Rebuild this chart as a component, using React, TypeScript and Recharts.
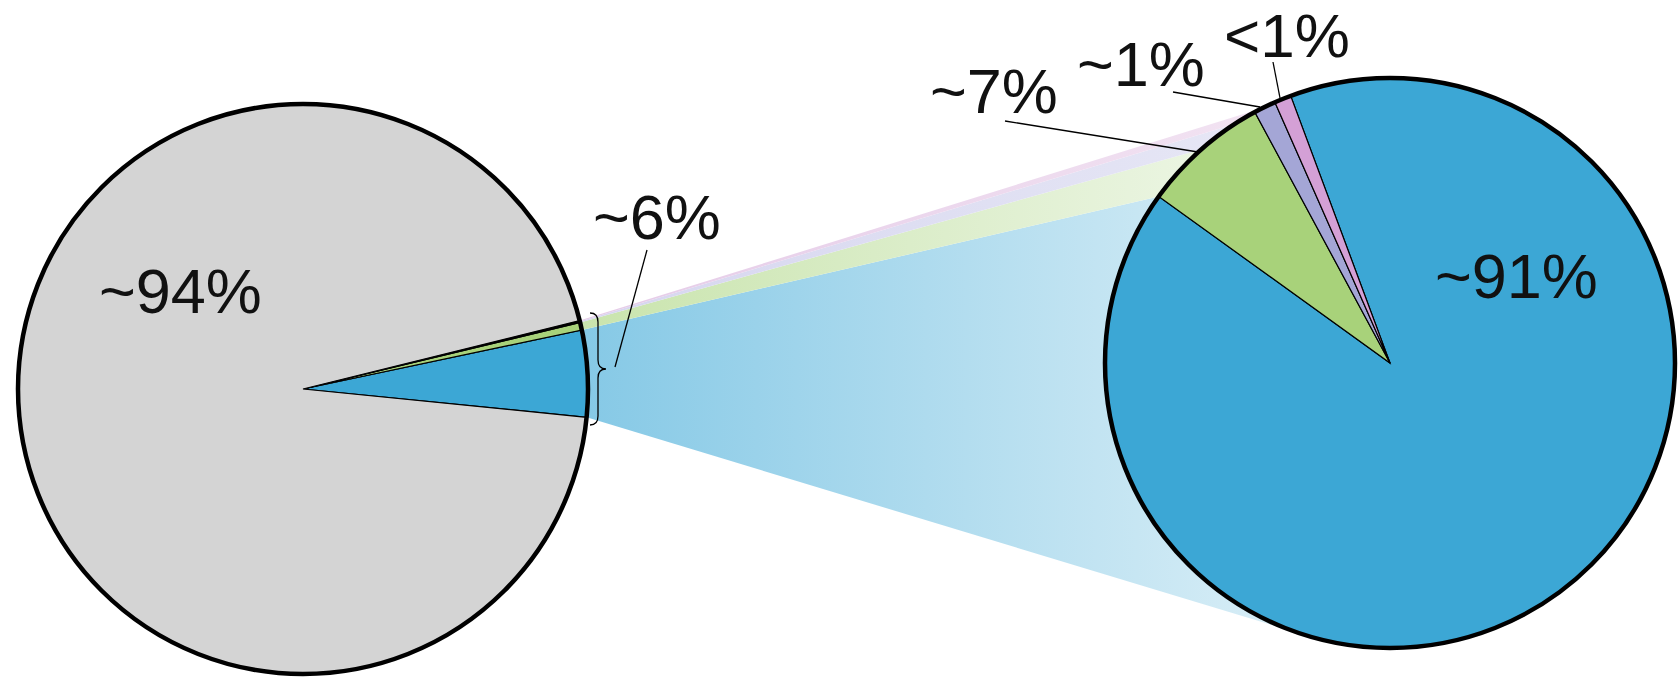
import React from 'react';
import { PieChart, Pie, Cell } from 'recharts';

// ---------- data ----------
const categories = ['Blue', 'Green', 'Purple', 'Pink'];
const rightValues = [90.6, 7.2, 1.25, 0.95];
const rightLabels = ['~91%', '~7%', '~1%', '<1%'];
const leftValues = [4.9, 0.43, 0.06, 0.05];
const leftRestName = 'Rest';
const leftRestValue = 94.56;
const leftLabels = ['~94%', '~6%'];

// ---------- styles / layout ----------
const sliceColors = ['#3ca7d5', '#a8d27a', '#a4a6d6', '#d4a0d6'];
const restColor = '#d4d4d4';
const bandFrom = ['#86c9e6', '#c9e4ad', '#d6d6ef', '#e5cbe8'];
const bandTo = ['#dbeff7', '#ebf5e2', '#e6e6f5', '#f2e3f2'];
// visual anchor angles (deg) on the right circle for the upper edge of the thin bands
const bandUpperAnchor = [NaN, 131.5, 123, 116.5];

const W = 1678;
const H = 677;
const LEFT = { cx: 303, cy: 389, r: 285, start: -5.7 };
const RIGHT = { cx: 1390, cy: 363, r: 285, start: 110.4 };
const FONT = "'Liberation Sans', Arial, Helvetica, sans-serif";

const RAD = Math.PI / 180;
const polar = (cx: number, cy: number, r: number, a: number) => ({
  x: cx + r * Math.cos(-a * RAD),
  y: cy + r * Math.sin(-a * RAD),
});

const leftData = [
  ...categories.map((name, i) => ({ name, value: leftValues[i], idx: i })),
  { name: leftRestName, value: leftRestValue, idx: -1 },
];
const leftFills = [...sliceColors, restColor];
const rightData = categories.map((name, i) => ({ name, value: rightValues[i], idx: i }));

// left-pie boundary angles (counter-clockwise from LEFT.start), same rule as the Pie layout
const leftTotal = leftData.reduce((s, d) => s + d.value, 0);
const leftBounds: number[][] = [];
{
  let acc = 0;
  categories.forEach((_, i) => {
    const a0 = LEFT.start + (acc / leftTotal) * 360;
    acc += leftValues[i];
    const a1 = LEFT.start + (acc / leftTotal) * 360;
    leftBounds.push([a0, a1]);
  });
}

const getIdx = (p: any) => (p?.payload?.idx ?? p?.idx ?? 0);

const BandShape = (props: any) => {
  const { cx, cy, outerRadius, startAngle, endAngle } = props;
  const i = getIdx(props);
  const la = leftBounds[i];
  if (!la) return <g />;
  const L0 = polar(LEFT.cx, LEFT.cy, LEFT.r, la[0]);
  const L1 = polar(LEFT.cx, LEFT.cy, LEFT.r, la[1]);
  let pts: { x: number; y: number }[];
  let xEnd: number;
  if (i === 0) {
    const R1 = polar(cx, cy, outerRadius, endAngle);
    const dx = L0.x - cx;
    const dy = -(L0.y - cy);
    const d = Math.sqrt(dx * dx + dy * dy);
    const phi = Math.atan2(dy, dx) / RAD;
    const tAng = phi + Math.acos(outerRadius / d) / RAD;
    const Rt = polar(cx, cy, outerRadius, tAng);
    pts = [L0, L1, R1, { x: cx, y: cy }, Rt];
    xEnd = Rt.x;
  } else {
    const lowAng = i === 1 ? startAngle : bandUpperAnchor[i - 1];
    const R0 = polar(cx, cy, outerRadius, lowAng);
    const R1 = polar(cx, cy, outerRadius, bandUpperAnchor[i]);
    pts = [L0, L1, R1, { x: cx, y: cy }, R0];
    xEnd = Math.max(R0.x, R1.x);
  }
  const id = `band-grad-${i}`;
  return (
    <g>
      <defs>
        <linearGradient id={id} gradientUnits="userSpaceOnUse" x1={L0.x} y1={0} x2={xEnd} y2={0}>
          <stop offset="0%" stopColor={bandFrom[i]} />
          <stop offset="100%" stopColor={bandTo[i]} />
        </linearGradient>
      </defs>
      <polygon points={pts.map((p) => `${p.x},${p.y}`).join(' ')} fill={`url(#${id})`} stroke="none" />
    </g>
  );
};

const textStyle = { fontFamily: FONT, fontSize: 63, fill: '#111' } as const;
const line = { stroke: '#000', strokeWidth: 1.3, fill: 'none' } as const;

const Annotations = () => (
  <g>
    <text x={99} y={313} {...textStyle}>{leftLabels[0]}</text>
    <text x={593} y={239} {...textStyle}>{leftLabels[1]}</text>
    <text x={1435} y={298} {...textStyle}>{rightLabels[0]}</text>
    <text x={930} y={113} {...textStyle}>{rightLabels[1]}</text>
    <text x={1077} y={86} {...textStyle}>{rightLabels[2]}</text>
    <text x={1224} y={57} {...textStyle} fontSize={62}>{rightLabels[3]}</text>
    <path d="M590,313 Q598,313 598,322 L598,360 Q598,369 606,369 Q598,369 598,378 L598,416 Q598,425 590,425" {...line} />
    <line x1={647} y1={250} x2={615} y2={367} {...line} />
    <line x1={1005} y1={121} x2={1198} y2={152} {...line} />
    <line x1={1173} y1={92} x2={1260} y2={107} {...line} />
    <line x1={1273} y1={62} x2={1280} y2={98} {...line} />
  </g>
);

const OutlineShape = (props: any) => (
  <circle cx={props.cx} cy={props.cy} r={props.outerRadius} fill="none" stroke="#000" strokeWidth={4.5} />
);

const OutlineWithNotes = (props: any) => (
  <g>
    <circle cx={props.cx} cy={props.cy} r={props.outerRadius} fill="none" stroke="#000" strokeWidth={4.5} />
    <Annotations />
  </g>
);

export default function App() {
  return (
    <div style={{ position: 'absolute', left: 0, top: 0, width: W, height: H, background: '#fff' }}>
      <PieChart width={W} height={H} margin={{ top: 0, right: 0, bottom: 0, left: 0 }}>
        {/* connecting bands (behind) */}
        <Pie
          data={rightData}
          dataKey="value"
          cx={RIGHT.cx}
          cy={RIGHT.cy}
          outerRadius={RIGHT.r}
          startAngle={RIGHT.start}
          endAngle={RIGHT.start - 360}
          isAnimationActive={false}
          stroke="none"
          shape={BandShape}
          inactiveShape={BandShape}
          activeShape={BandShape}
        />
        <Pie
          data={leftData}
          dataKey="value"
          cx={LEFT.cx}
          cy={LEFT.cy}
          outerRadius={LEFT.r}
          startAngle={LEFT.start}
          endAngle={LEFT.start + 360}
          isAnimationActive={false}
          stroke="#000"
          strokeWidth={1.2}
        >
          {leftData.map((d, i) => (
            <Cell key={d.name} fill={leftFills[i]} />
          ))}
        </Pie>
        <Pie
          data={rightData}
          dataKey="value"
          cx={RIGHT.cx}
          cy={RIGHT.cy}
          outerRadius={RIGHT.r}
          startAngle={RIGHT.start}
          endAngle={RIGHT.start - 360}
          isAnimationActive={false}
          stroke="#000"
          strokeWidth={1.2}
        >
          {rightData.map((d, i) => (
            <Cell key={d.name} fill={sliceColors[i]} />
          ))}
        </Pie>
        <Pie
          data={[{ name: 'outlineL', value: 1 }]}
          dataKey="value"
          cx={LEFT.cx}
          cy={LEFT.cy}
          outerRadius={LEFT.r}
          isAnimationActive={false}
          shape={OutlineShape}
          inactiveShape={OutlineShape}
          activeShape={OutlineShape}
        />
        <Pie
          data={[{ name: 'outlineR', value: 1 }]}
          dataKey="value"
          cx={RIGHT.cx}
          cy={RIGHT.cy}
          outerRadius={RIGHT.r}
          isAnimationActive={false}
          shape={OutlineWithNotes}
          inactiveShape={OutlineWithNotes}
          activeShape={OutlineWithNotes}
        />
      </PieChart>
    </div>
  );
}
